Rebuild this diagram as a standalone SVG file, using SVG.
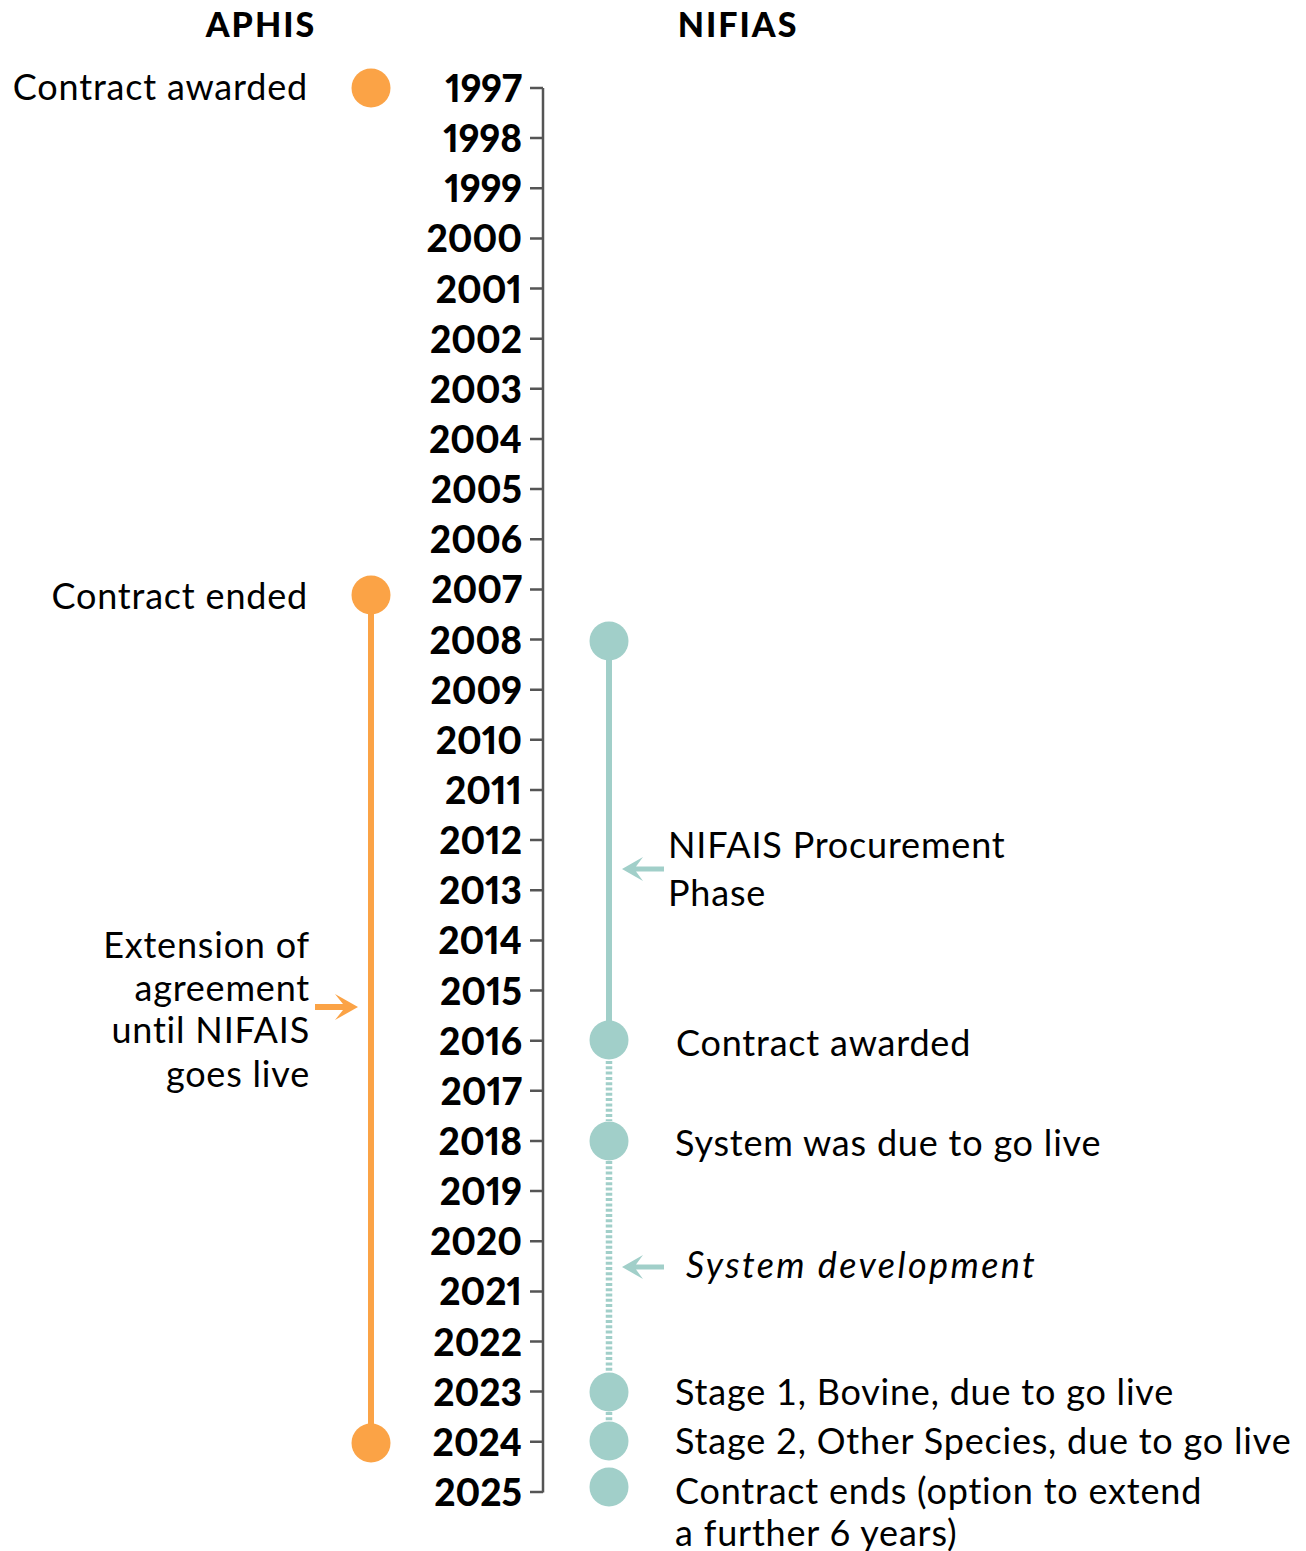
<svg xmlns="http://www.w3.org/2000/svg" width="1306" height="1551" viewBox="0 0 1306 1551">
<style>
.hdr{font-family:Lato,"Liberation Sans",sans-serif;font-weight:900;font-size:34px;fill:#000;letter-spacing:2px}
.yr{font-family:Lato,"Liberation Sans",sans-serif;font-weight:900;font-size:37px;fill:#000;text-anchor:end;font-variant-numeric:proportional-nums;font-feature-settings:"pnum" 1}
.lbl{font-family:Lato,"Liberation Sans",sans-serif;font-size:36px;fill:#000;letter-spacing:0.8px}
.r{text-anchor:end}
.it{font-style:italic;letter-spacing:2.4px}
.axis{stroke:#555;stroke-width:2.5;fill:none}
.or{fill:#FBA346}
.te{fill:#A1CFC9}
</style>
<rect width="1306" height="1551" fill="#fff"/>
<g id="headers">
<text class="hdr" x="261" y="37" text-anchor="middle">APHIS</text>
<text class="hdr" x="738" y="37" text-anchor="middle">NIFIAS</text>
</g>
<g id="axis">
<path class="axis" d="M543 88 V1492.5 M530 88 H543 M530 138.1 H543 M530 188.3 H543 M530 238.4 H543 M530 288.6 H543 M530 338.7 H543 M530 388.8 H543 M530 439 H543 M530 489.1 H543 M530 539.3 H543 M530 589.4 H543 M530 639.5 H543 M530 689.7 H543 M530 739.8 H543 M530 790 H543 M530 840.1 H543 M530 890.2 H543 M530 940.4 H543 M530 990.5 H543 M530 1040.7 H543 M530 1090.8 H543 M530 1140.9 H543 M530 1191.1 H543 M530 1241.2 H543 M530 1291.4 H543 M530 1341.5 H543 M530 1391.6 H543 M530 1441.8 H543 M530 1491.9 H543"/>
<text class="yr" x="522" y="102">1997</text>
<text class="yr" x="522" y="152">1998</text>
<text class="yr" x="522" y="202">1999</text>
<text class="yr" x="522" y="252">2000</text>
<text class="yr" x="522" y="303">2001</text>
<text class="yr" x="522" y="353">2002</text>
<text class="yr" x="522" y="403">2003</text>
<text class="yr" x="522" y="453">2004</text>
<text class="yr" x="522" y="503">2005</text>
<text class="yr" x="522" y="553">2006</text>
<text class="yr" x="522" y="603">2007</text>
<text class="yr" x="522" y="654">2008</text>
<text class="yr" x="522" y="704">2009</text>
<text class="yr" x="522" y="754">2010</text>
<text class="yr" x="522" y="804">2011</text>
<text class="yr" x="522" y="854">2012</text>
<text class="yr" x="522" y="904">2013</text>
<text class="yr" x="522" y="954">2014</text>
<text class="yr" x="522" y="1005">2015</text>
<text class="yr" x="522" y="1055">2016</text>
<text class="yr" x="522" y="1105">2017</text>
<text class="yr" x="522" y="1155">2018</text>
<text class="yr" x="522" y="1205">2019</text>
<text class="yr" x="522" y="1255">2020</text>
<text class="yr" x="522" y="1305">2021</text>
<text class="yr" x="522" y="1356">2022</text>
<text class="yr" x="522" y="1406">2023</text>
<text class="yr" x="522" y="1456">2024</text>
<text class="yr" x="522" y="1506">2025</text>
</g>
<g id="connectors">
<line x1="371" y1="595" x2="371" y2="1443" stroke="#FBA346" stroke-width="6"/>
<line x1="609" y1="641" x2="609" y2="1040" stroke="#A1CFC9" stroke-width="6"/>
<path d="M609 1061 V1121 M609 1161 V1372 M609 1412 V1422" stroke="#A1CFC9" stroke-width="6.5" stroke-dasharray="3 2.3" fill="none"/>
<polygon class="or" points="358,1007 335,994 343,1004 315,1004 315,1010 343,1010 335,1020"/>
<polygon class="te" points="622,869 643,857 636,866.5 664,866.5 664,871.5 636,871.5 643,881"/>
<polygon class="te" points="622,1267 643,1255 636,1264.5 664,1264.5 664,1269.5 636,1269.5 643,1279"/>
</g>
<g id="aphis-awarded">
<circle class="or" cx="371" cy="88" r="19.5"/>
<text class="lbl r" x="308" y="100">Contract awarded</text>
</g>
<g id="aphis-ended">
<circle class="or" cx="371" cy="595" r="19.5"/>
<text class="lbl r" x="308" y="609">Contract ended</text>
</g>
<g id="aphis-extension">
<text class="lbl r" x="310" y="958">Extension of</text>
<text class="lbl r" x="310" y="1001">agreement</text>
<text class="lbl r" x="310" y="1043">until NIFAIS</text>
<text class="lbl r" x="310" y="1087">goes live</text>
</g>
<g id="aphis-end">
<circle class="or" cx="371" cy="1443" r="19.5"/>
</g>
<g id="nifias-procurement">
<circle class="te" cx="609" cy="641" r="19.5"/>
<text class="lbl" x="668" y="858">NIFAIS Procurement</text>
<text class="lbl" x="668" y="906">Phase</text>
</g>
<g id="nifias-awarded">
<circle class="te" cx="609" cy="1040" r="19.5"/>
<text class="lbl" x="676" y="1056">Contract awarded</text>
</g>
<g id="nifias-due">
<circle class="te" cx="609" cy="1141" r="19.5"/>
<text class="lbl" x="675" y="1156">System was due to go live</text>
</g>
<g id="nifias-development">
<text class="lbl it" x="686" y="1278">System development</text>
</g>
<g id="nifias-stage1">
<circle class="te" cx="609" cy="1392" r="19.5"/>
<text class="lbl" x="675" y="1405">Stage 1, Bovine, due to go live</text>
</g>
<g id="nifias-stage2">
<circle class="te" cx="609" cy="1441" r="19.5"/>
<text class="lbl" x="675" y="1454">Stage 2, Other Species, due to go live</text>
</g>
<g id="nifias-ends">
<circle class="te" cx="609" cy="1487" r="19.5"/>
<text class="lbl" x="675" y="1504">Contract ends (option to extend</text>
<text class="lbl" x="675" y="1546">a further 6 years)</text>
</g>
</svg>
